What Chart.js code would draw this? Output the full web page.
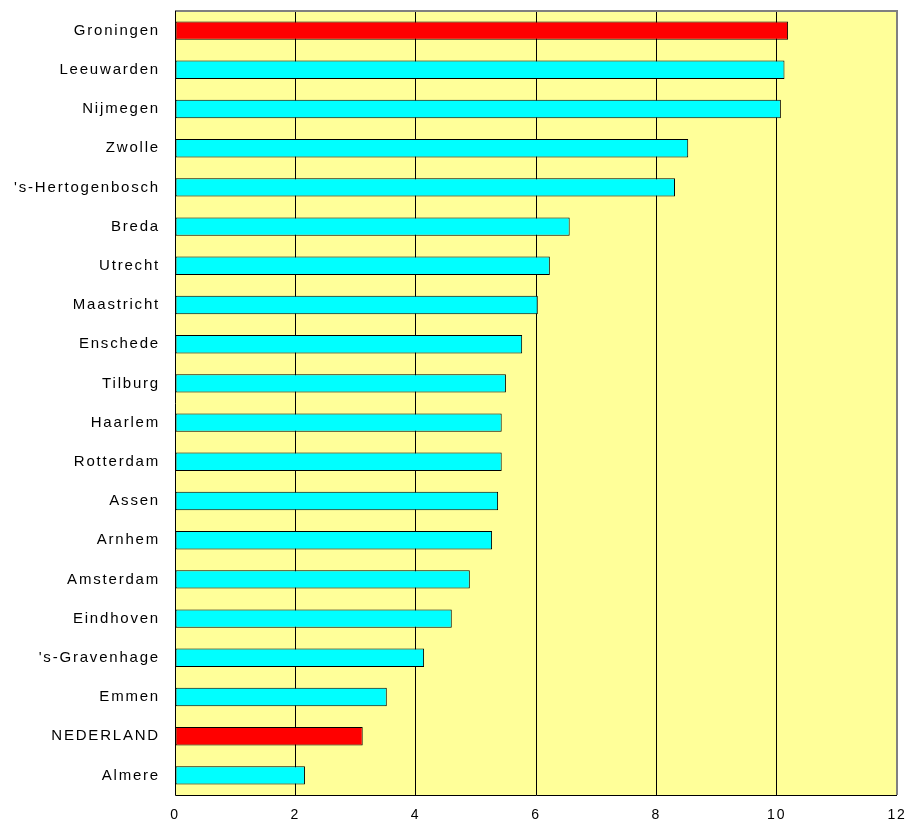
<!DOCTYPE html>
<html>
<head>
<meta charset="utf-8">
<script src="https://cdn.jsdelivr.net/npm/chart.js@4/dist/chart.umd.min.js"></script>
<style>
  html, body { margin: 0; padding: 0; background: #ffffff; }
  #wrap { width: 907px; height: 829px; }
</style>
</head>
<body>
<div id="wrap"><canvas id="chart" width="907" height="829"></canvas></div>
<script>
// gegevens
const steden = ['Groningen', 'Leeuwarden', 'Nijmegen', 'Zwolle', "'s-Hertogenbosch", 'Breda', 'Utrecht',
    'Maastricht', 'Enschede', 'Tilburg', 'Haarlem', 'Rotterdam', 'Assen', 'Arnhem', 'Amsterdam',
    'Eindhoven', "'s-Gravenhage", 'Emmen', 'NEDERLAND', 'Almere'];
const waarden = [10.19, 10.13, 10.07, 8.53, 8.31, 6.56, 6.23, 6.03, 5.77, 5.50, 5.43, 5.43, 5.37, 5.27,
    4.90, 4.60, 4.14, 3.52, 3.12, 2.16];
const gemarkeerd = ['Groningen', 'NEDERLAND'];
const xTicks = [0, 2, 4, 6, 8, 10, 12];

const kleuren = steden.map(s => gemarkeerd.includes(s) ? '#FF0000' : '#00FFFF');

// wat extra letterafstand, zoals in het origineel
const letterAfstand = {
    id: 'letterAfstand',
    beforeLayout(chart) { chart.ctx.letterSpacing = '1.8px'; },
    beforeDraw(chart) { chart.ctx.letterSpacing = '1.8px'; }
};

// achtergrond en rand van het plotgebied
const plotAchtergrond = {
    id: 'plotAchtergrond',
    beforeDraw(chart) {
        const { ctx, chartArea: a } = chart;
        ctx.save();
        ctx.fillStyle = '#FFFF99';
        ctx.fillRect(a.left, a.top, a.right - a.left, a.bottom - a.top);
        ctx.restore();
    },
    afterDraw(chart) {
        const { ctx, chartArea: a } = chart;
        ctx.save();
        ctx.strokeStyle = '#808080';
        ctx.lineWidth = 2;
        ctx.beginPath();
        ctx.moveTo(a.left, a.top);
        ctx.lineTo(a.right, a.top);
        ctx.lineTo(a.right, a.bottom);
        ctx.stroke();
        ctx.strokeStyle = '#000000';
        ctx.lineWidth = 1;
        ctx.beginPath();
        ctx.moveTo(a.left + 0.5, a.top);
        ctx.lineTo(a.left + 0.5, a.bottom + 0.5);
        ctx.lineTo(a.right, a.bottom + 0.5);
        ctx.stroke();
        ctx.restore();
    }
};

new Chart(document.getElementById('chart'), {
    type: 'bar',
    data: {
        labels: steden,
        datasets: [{
            data: waarden,
            backgroundColor: kleuren,
            borderColor: '#000000',
            borderWidth: 1,
            borderSkipped: false,
            barPercentage: 0.47,
            categoryPercentage: 1
        }]
    },
    plugins: [letterAfstand, plotAchtergrond],
    options: {
        indexAxis: 'y',
        responsive: false,
        animation: false,
        layout: { padding: { top: 11, right: 10, left: 0, bottom: 0 } },
        plugins: {
            legend: { display: false },
            tooltip: { enabled: false }
        },
        scales: {
            x: {
                min: 0,
                max: 12,
                afterBuildTicks(scale) {
                    scale.ticks = xTicks.map(v => ({ value: v }));
                },
                afterFit(scale) {
                    scale.height = 34;
                    scale.paddingLeft = 0;
                    scale.paddingRight = 0;
                },
                grid: {
                    color: ctx => (ctx.tick && (ctx.tick.value === 0 || ctx.tick.value === 12)) ? 'rgba(0,0,0,0)' : '#000000',
                    lineWidth: 1,
                    drawTicks: false
                },
                border: { display: false },
                ticks: {
                    color: '#000000',
                    padding: 12,
                    font: { family: 'Liberation Sans, Arial, sans-serif', size: 14 }
                }
            },
            y: {
                afterFit(scale) {
                    scale.width = 175;
                    scale.paddingTop = 0;
                    scale.paddingBottom = 0;
                },
                grid: { display: false, drawTicks: false },
                border: { display: false },
                ticks: {
                    color: '#000000',
                    padding: 15,
                    font: { family: 'Liberation Sans, Arial, sans-serif', size: 15 }
                }
            }
        }
    }
});
</script>
</body>
</html>
